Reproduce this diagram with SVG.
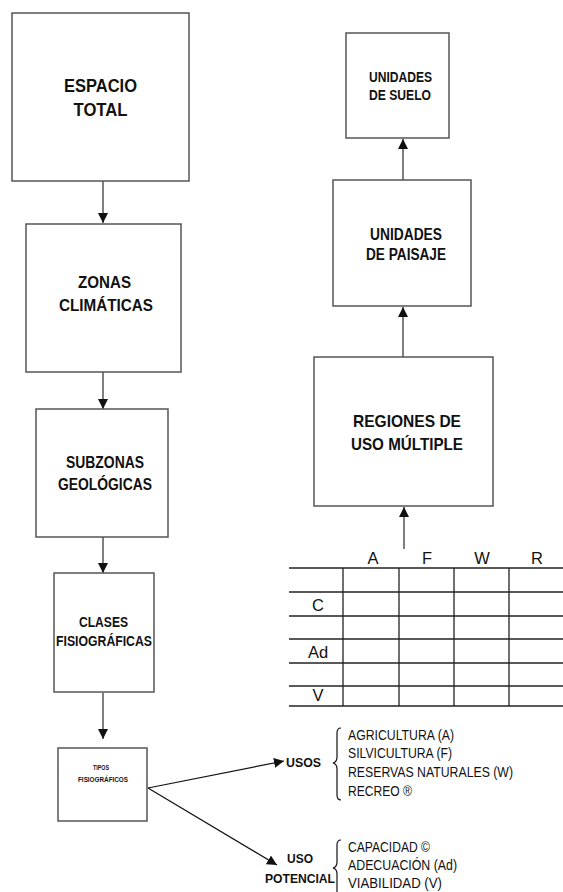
<svg xmlns="http://www.w3.org/2000/svg" width="563" height="892" viewBox="0 0 563 892">
<style>
.box{fill:#fff;stroke:#555;stroke-width:1.5}
.hd{font-family:"Liberation Sans",Arial,sans-serif;font-weight:bold;fill:#111;text-anchor:middle}
.hs{font-family:"Liberation Sans",Arial,sans-serif;font-weight:bold;fill:#111;text-anchor:start}
.tx{font-family:"Liberation Sans",Arial,sans-serif;fill:#111}
.ln{stroke:#555;stroke-width:1.5;fill:none}
.dl{stroke:#111;stroke-width:1.2;fill:none}
.tb{stroke:#222;stroke-width:1.3;fill:none}
</style>
<defs>
<marker id="ah" markerUnits="userSpaceOnUse" markerWidth="11" markerHeight="11" refX="10" refY="5" orient="auto">
<path d="M0,0 L10,5 L0,10 z" fill="#111"/>
</marker>
</defs>
<rect width="563" height="892" fill="#fff"/>
<g id="connectors">
<line class="ln" x1="103" y1="181" x2="103" y2="223" marker-end="url(#ah)"/>
<line class="ln" x1="103" y1="372" x2="103" y2="409" marker-end="url(#ah)"/>
<line class="ln" x1="103" y1="537" x2="103" y2="573" marker-end="url(#ah)"/>
<line class="ln" x1="103" y1="693" x2="103" y2="739" marker-end="url(#ah)"/>
<line class="ln" x1="404" y1="549" x2="404" y2="507" marker-end="url(#ah)"/>
<line class="ln" x1="403" y1="357" x2="403" y2="307" marker-end="url(#ah)"/>
<line class="ln" x1="403" y1="180" x2="403" y2="139" marker-end="url(#ah)"/>
<line class="dl" x1="148" y1="788" x2="284" y2="761" marker-end="url(#ah)"/>
<line class="dl" x1="148" y1="788" x2="277" y2="865" marker-end="url(#ah)"/>
</g>
<g id="espacio-total">
<rect class="box" x="12" y="13" width="177" height="168"/>
<text class="hd" font-size="18" x="100.5" y="92" textLength="73" lengthAdjust="spacingAndGlyphs">ESPACIO</text>
<text class="hd" font-size="18" x="100.5" y="116" textLength="54" lengthAdjust="spacingAndGlyphs">TOTAL</text>
</g>
<g id="zonas-climaticas">
<rect class="box" x="26" y="224" width="155" height="148"/>
<text class="hd" font-size="17" x="104.5" y="288" textLength="53" lengthAdjust="spacingAndGlyphs">ZONAS</text>
<text class="hd" font-size="17" x="106" y="311" textLength="94" lengthAdjust="spacingAndGlyphs">CLIMÁTICAS</text>
</g>
<g id="subzonas-geologicas">
<rect class="box" x="36" y="409" width="132" height="128"/>
<text class="hd" font-size="16" x="105" y="468" textLength="78" lengthAdjust="spacingAndGlyphs">SUBZONAS</text>
<text class="hd" font-size="16" x="105" y="490" textLength="94" lengthAdjust="spacingAndGlyphs">GEOLÓGICAS</text>
</g>
<g id="clases-fisiograficas">
<rect class="box" x="54" y="573" width="100" height="119"/>
<text class="hd" font-size="14" x="103.5" y="627" textLength="49" lengthAdjust="spacingAndGlyphs">CLASES</text>
<text class="hd" font-size="14" x="104" y="646" textLength="96" lengthAdjust="spacingAndGlyphs">FISIOGRÁFICAS</text>
</g>
<g id="tipos-fisiograficos">
<rect class="box" x="58" y="748" width="89" height="73"/>
<text class="hd" font-size="7.5" x="101" y="770" textLength="16" lengthAdjust="spacingAndGlyphs">TIPOS</text>
<text class="hd" font-size="7.5" x="103" y="782" textLength="50" lengthAdjust="spacingAndGlyphs">FISIOGRÁFICOS</text>
</g>
<g id="unidades-suelo">
<rect class="box" x="346" y="33" width="103" height="105"/>
<text class="hd" font-size="14" x="400.5" y="82" textLength="63" lengthAdjust="spacingAndGlyphs">UNIDADES</text>
<text class="hd" font-size="14" x="400" y="100" textLength="62" lengthAdjust="spacingAndGlyphs">DE SUELO</text>
</g>
<g id="unidades-paisaje">
<rect class="box" x="333" y="180" width="138" height="126"/>
<text class="hd" font-size="16" x="406" y="240" textLength="72" lengthAdjust="spacingAndGlyphs">UNIDADES</text>
<text class="hd" font-size="16" x="406" y="260" textLength="80" lengthAdjust="spacingAndGlyphs">DE PAISAJE</text>
</g>
<g id="regiones-uso-multiple">
<rect class="box" x="314" y="357" width="179" height="149"/>
<text class="hd" font-size="17" x="407" y="427" textLength="108" lengthAdjust="spacingAndGlyphs">REGIONES DE</text>
<text class="hd" font-size="17" x="407" y="450" textLength="112" lengthAdjust="spacingAndGlyphs">USO MÚLTIPLE</text>
</g>
<g id="tabla">
<g class="tb">
<line x1="289" y1="568" x2="563" y2="568"/>
<line x1="289" y1="592" x2="563" y2="592"/>
<line x1="289" y1="616" x2="563" y2="616"/>
<line x1="289" y1="639" x2="563" y2="639"/>
<line x1="289" y1="663" x2="563" y2="663"/>
<line x1="289" y1="686" x2="563" y2="686"/>
<line x1="289" y1="706" x2="563" y2="706"/>
<line x1="343" y1="568" x2="343" y2="706"/>
<line x1="399" y1="568" x2="399" y2="706"/>
<line x1="454" y1="568" x2="454" y2="706"/>
<line x1="509" y1="568" x2="509" y2="706"/>
</g>
<g class="tx" font-size="16.5" text-anchor="middle">
<text x="373" y="564">A</text>
<text x="427" y="564">F</text>
<text x="482" y="564">W</text>
<text x="537" y="564">R</text>
<text x="318" y="611">C</text>
<text x="318" y="658">Ad</text>
<text x="318" y="701">V</text>
</g>
</g>
<g id="usos">
<text class="hs" font-size="13.5" x="286" y="767" textLength="35" lengthAdjust="spacingAndGlyphs">USOS</text>
<path class="dl" d="M341,728 q-4,0 -4,5 v24 q0,5 -4,6 q4,1 4,6 v26 q0,5 4,5"/>
<g class="tx" font-size="14">
<text x="348" y="740" textLength="106" lengthAdjust="spacingAndGlyphs">AGRICULTURA (A)</text>
<text x="348" y="758" textLength="104" lengthAdjust="spacingAndGlyphs">SILVICULTURA (F)</text>
<text x="348" y="777" textLength="165" lengthAdjust="spacingAndGlyphs">RESERVAS NATURALES (W)</text>
<text x="348" y="796" textLength="64" lengthAdjust="spacingAndGlyphs">RECREO ®</text>
</g>
</g>
<g id="uso-potencial">
<text class="hd" font-size="13.5" x="300" y="863" textLength="26" lengthAdjust="spacingAndGlyphs">USO</text>
<text class="hd" font-size="13.5" x="300" y="883" textLength="70" lengthAdjust="spacingAndGlyphs">POTENCIAL</text>
<path class="dl" d="M341,840 q-4,0 -4,5 v17 q0,5 -4,6 q4,1 4,6 v17 q0,5 4,5"/>
<g class="tx" font-size="14">
<text x="348" y="852" textLength="82" lengthAdjust="spacingAndGlyphs">CAPACIDAD ©</text>
<text x="348" y="870" textLength="109" lengthAdjust="spacingAndGlyphs">ADECUACIÓN (Ad)</text>
<text x="348" y="888" textLength="94" lengthAdjust="spacingAndGlyphs">VIABILIDAD (V)</text>
</g>
</g>
</svg>
